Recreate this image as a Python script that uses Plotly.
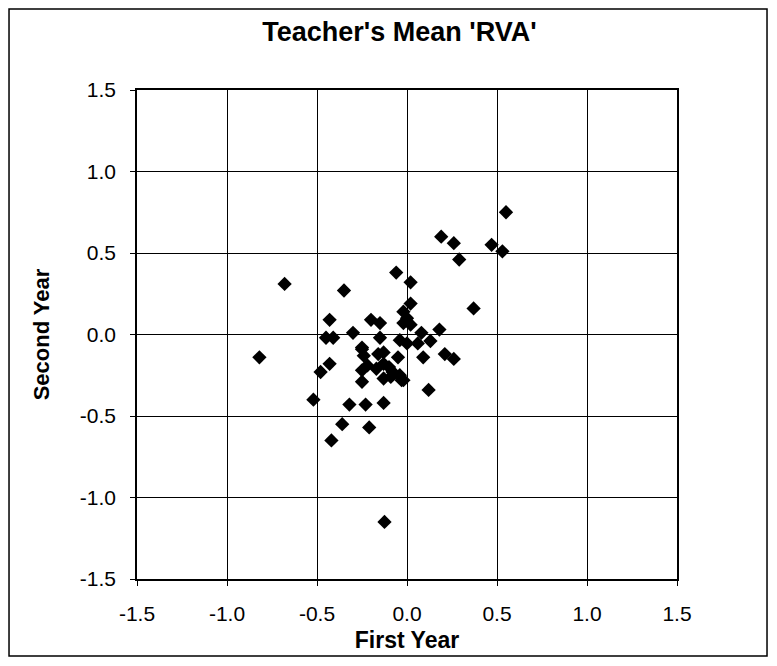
import plotly.graph_objects as go

first_year = [
    -0.82, -0.68, -0.52, -0.48, -0.43, -0.43, -0.45, -0.41, -0.42, -0.36,
    -0.35, -0.32, -0.30, -0.25, -0.25, -0.25, -0.25, -0.24, -0.23, -0.21,
    -0.20, -0.22, -0.17, -0.16, -0.15, -0.15, -0.13, -0.13, -0.13, -0.13,
    -0.125, -0.10, -0.08, -0.06, -0.05, -0.04, -0.04, -0.02, -0.02, -0.02,
    0.00, 0.00, 0.02, 0.02, 0.02, 0.06, 0.08, 0.09, 0.12, 0.13,
    0.18, 0.19, 0.21, 0.26, 0.26, 0.29, 0.37, 0.47, 0.53, 0.55,
    -0.09, -0.03,
]
second_year = [
    -0.14, 0.31, -0.40, -0.23, -0.18, 0.09, -0.02, -0.02, -0.65, -0.55,
    0.27, -0.43, 0.01, -0.09, -0.22, -0.29, -0.08, -0.13, -0.43, -0.57,
    0.09, -0.19, -0.21, -0.12, 0.07, -0.02, -0.18, -0.11, -0.27, -0.42,
    -1.15, -0.20, -0.23, 0.38, -0.14, -0.25, -0.035, -0.28, 0.14, 0.07,
    0.10, -0.055, 0.06, 0.32, 0.19, -0.055, 0.01, -0.14, -0.34, -0.04,
    0.03, 0.60, -0.12, 0.56, -0.15, 0.46, 0.16, 0.55, 0.51, 0.75,
    -0.26, -0.28,
]

tick_vals = [-1.5, -1.0, -0.5, 0.0, 0.5, 1.0, 1.5]
tick_text = ["-1.5", "-1.0", "-0.5", "0.0", "0.5", "1.0", "1.5"]

title_text = "Teacher's Mean 'RVA'"
x_title = "First Year"
y_title = "Second Year"

fig = go.Figure()
fig.add_trace(go.Scatter(
    x=first_year, y=second_year, mode="markers",
    marker=dict(symbol="diamond", size=11, color="black", line=dict(width=0)),
    showlegend=False,
))

font_family = "Liberation Sans, Arial, sans-serif"
axis_common = dict(
    tickvals=tick_vals, ticktext=tick_text,
    showgrid=True, gridcolor="black", gridwidth=1,
    showline=True, linecolor="black", linewidth=1.5, mirror=True,
    ticks="outside", ticklen=5, tickcolor="black",
    zeroline=False, automargin=False,
    tickfont=dict(family=font_family, size=21, color="black"),
)

fig.update_layout(
    width=769, height=658,
    margin=dict(l=129, r=100, t=82, b=87),
    paper_bgcolor="white", plot_bgcolor="white",
    title=dict(text="<b>" + title_text + "</b>", x=0.509, xanchor="center",
               xref="container",
               y=0.964, yanchor="middle",
               font=dict(family=font_family, size=27, color="black")),
    xaxis=dict(range=[-1.5, 1.5], **axis_common, ticklabelstandoff=10,
               title=dict(text="<b>" + x_title + "</b>", standoff=8,
                          font=dict(family=font_family, size=23, color="black"))),
    yaxis=dict(range=[-1.5, 1.5], **axis_common, ticklabelstandoff=10,
               title=dict(text="<b>" + y_title + "</b>", standoff=24,
                          font=dict(family=font_family, size=22, color="black"))),
    shapes=[dict(type="rect", xref="paper", yref="paper",
                 x0=-0.237, x1=1.1667, y0=-0.1575, y1=1.1656,
                 line=dict(color="black", width=1.5))],
)

fig.write_html("out.html")
